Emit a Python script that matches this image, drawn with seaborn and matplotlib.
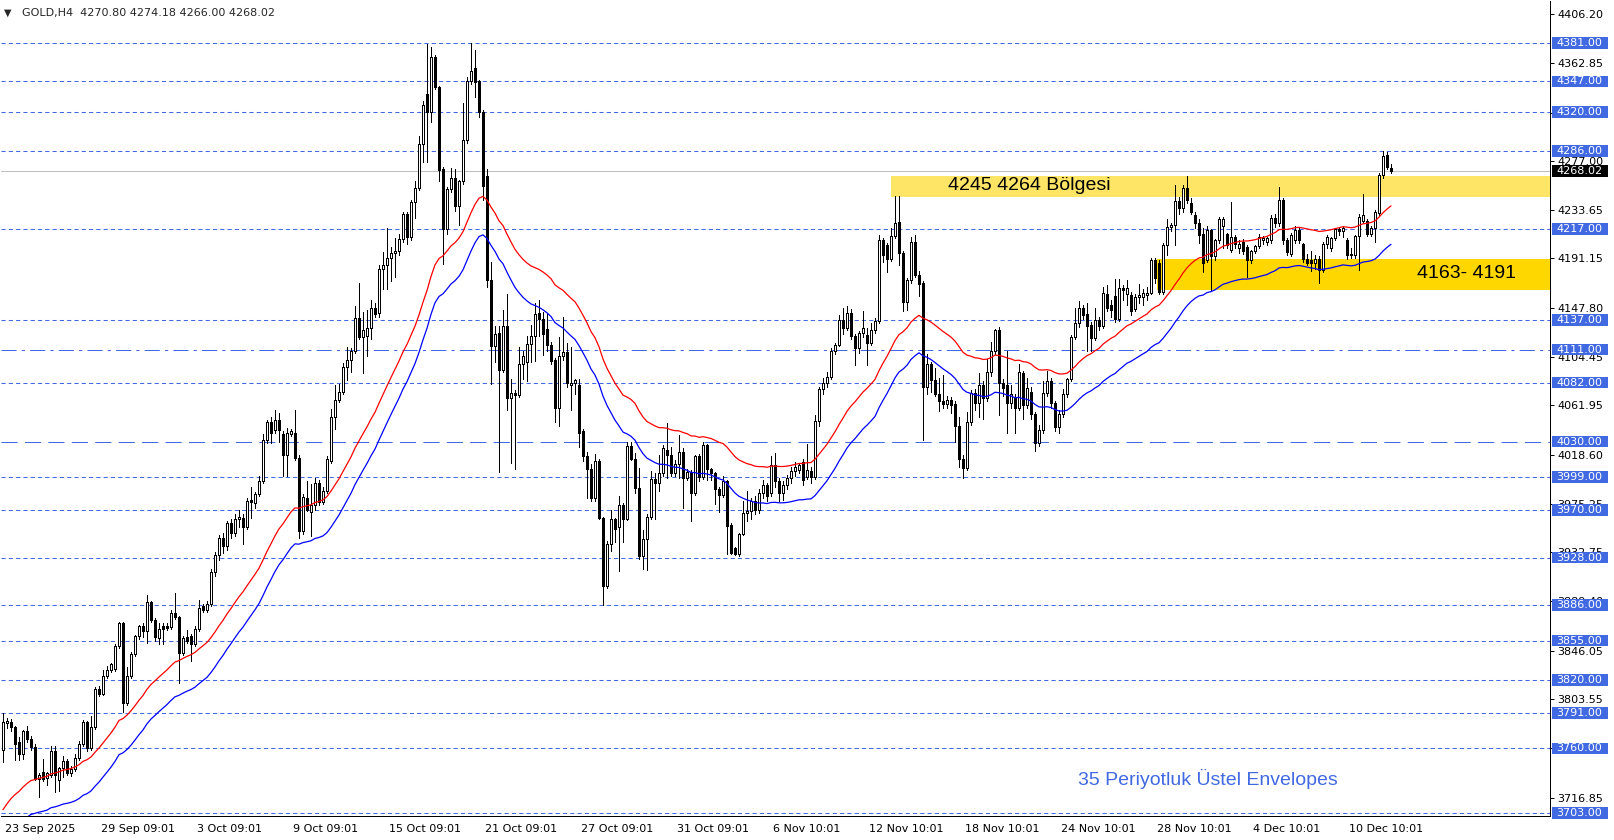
import numpy as np
import pandas as pd
import matplotlib
matplotlib.use("Agg")
import matplotlib.pyplot as plt
import matplotlib.transforms as mtransforms
from matplotlib.patches import Rectangle
import seaborn as sns

# GOLD H4 candles (open, high, low, close)
opens = [
    3759, 3782, 3783, 3779, 3766, 3755, 3775, 3768, 3761, 3733, 3739, 3734,
    3737, 3758, 3732, 3743, 3749, 3738, 3742, 3752, 3764, 3783, 3760, 3779,
    3812, 3808, 3824, 3829, 3830, 3850, 3870, 3800, 3824, 3843, 3859, 3868,
    3863, 3889, 3873, 3857, 3868, 3868, 3867, 3879, 3876, 3844, 3858, 3859,
    3852, 3865, 3885, 3882, 3887, 3915, 3930, 3945, 3938, 3958, 3950, 3962,
    3963, 3955, 3979, 3976, 3984, 3995, 4031, 4047, 4040, 4049, 4037, 4018,
    4037, 4038, 4016, 3951, 3980, 3968, 3974, 3994, 3977, 3987, 4013, 4052,
    4067, 4074, 4096, 4102, 4110, 4139, 4122, 4123, 4130, 4148, 4143, 4182,
    4185, 4192, 4196, 4198, 4208, 4230, 4210, 4241, 4253, 4292, 4336, 4320,
    4368, 4342, 4270, 4217, 4252, 4262, 4237, 4259, 4295, 4347, 4359, 4347,
    4320, 4264, 4172, 4114, 4126, 4093, 4132, 4068, 4073, 4071, 4098, 4100,
    4116, 4123, 4143, 4138, 4129, 4115, 4102, 4060, 4105, 4109, 4080, 4082,
    4080, 4039, 4017, 4006, 3980, 4013, 3963, 3903, 3940, 3962, 3955, 3974,
    3962, 4026, 4015, 3989, 3929, 3944, 3964, 3997, 3994, 4002, 4023, 4018,
    4002, 4010, 4021, 3998, 4003, 3985, 4017, 3999, 4027, 4006, 4002, 3988,
    3983, 3995, 3957, 3936, 3931, 3949, 3967, 3969, 3978, 3970, 3985, 3992,
    3985, 4009, 3995, 3985, 3992, 3998, 4004, 4005, 4012, 3999, 4004, 3999,
    4048, 4076, 4082, 4087, 4110, 4115, 4137, 4130, 4143, 4123, 4112, 4126,
    4124, 4117, 4128, 4136, 4207, 4203, 4191, 4211, 4223, 4196, 4153, 4172,
    4206, 4177, 4170, 4078, 4098, 4084, 4072, 4066, 4063, 4067, 4063, 4044,
    4015, 4007, 4047, 4073, 4064, 4080, 4068, 4091, 4110, 4128, 4082, 4080,
    4064, 4068, 4060, 4090, 4062, 4074, 4054, 4029, 4040, 4073, 4083, 4064,
    4043, 4054, 4072, 4085, 4122, 4134, 4148, 4142, 4133, 4121, 4137, 4132,
    4160, 4150, 4158, 4138, 4165, 4160, 4159, 4147, 4157, 4157, 4159, 4161,
    4190, 4187, 4162, 4203, 4219, 4221, 4242, 4236, 4253, 4240, 4229, 4222,
    4213, 4190, 4216, 4193, 4207, 4220, 4213, 4199, 4210, 4200, 4206, 4201,
    4190, 4198, 4202, 4207, 4206, 4207, 4227, 4222, 4243, 4207, 4195, 4207,
    4216, 4204, 4191, 4190, 4187, 4191, 4181, 4204, 4200, 4209, 4217, 4215,
    4207, 4195, 4194, 4211, 4224, 4224, 4213, 4218, 4231, 4265, 4282, 4270.80,
]
highs = [
    3791, 3787, 3786, 3780, 3770, 3776, 3780, 3771, 3764, 3738, 3751, 3739,
    3762, 3762, 3744, 3753, 3751, 3745, 3755, 3767, 3785, 3784, 3789, 3814,
    3815, 3829, 3833, 3835, 3852, 3871, 3871, 3832, 3845, 3860, 3869, 3870,
    3895, 3890, 3875, 3870, 3870, 3870, 3882, 3897, 3877, 3859, 3864, 3861,
    3868, 3891, 3887, 3890, 3918, 3933, 3948, 3950, 3960, 3962, 3966, 3970,
    3966, 3980, 3990, 3986, 4000, 4037, 4049, 4052, 4058, 4055, 4039, 4042,
    4041, 4058, 4018, 3984, 3995, 3993, 3998, 3996, 3990, 4017, 4059, 4080,
    4081, 4099, 4113, 4112, 4149, 4170, 4144, 4146, 4155, 4152, 4185, 4197,
    4218, 4201, 4209, 4213, 4232, 4232, 4243, 4259, 4299, 4330, 4380, 4377,
    4370, 4343, 4272, 4254, 4271, 4270, 4260, 4328, 4351, 4381, 4375, 4348,
    4322, 4270, 4188, 4132, 4132, 4146, 4160, 4085, 4075, 4113, 4110, 4123,
    4133, 4152, 4155, 4144, 4142, 4118, 4104, 4122, 4140, 4117, 4113, 4085,
    4085, 4041, 4021, 4010, 4019, 4015, 3964, 3943, 3970, 3963, 3982, 3976,
    4030, 4030, 4020, 4007, 3952, 3966, 4004, 4002, 4018, 4027, 4046, 4025,
    4014, 4036, 4024, 4006, 4005, 4018, 4019, 4030, 4028, 4007, 4003, 3990,
    4000, 3996, 3958, 3937, 3950, 3978, 3987, 3980, 3982, 3988, 3996, 3994,
    4017, 4020, 3998, 3995, 4001, 4008, 4012, 4011, 4015, 4028, 4008, 4053,
    4078, 4086, 4091, 4112, 4117, 4141, 4148, 4149, 4147, 4125, 4127, 4145,
    4130, 4134, 4139, 4212, 4209, 4205, 4218, 4246, 4246, 4198, 4174, 4210,
    4212, 4180, 4171, 4107, 4100, 4095, 4086, 4089, 4070, 4069, 4066, 4052,
    4018, 4056, 4075, 4076, 4090, 4083, 4103, 4118, 4129, 4131, 4085, 4110,
    4080, 4072, 4098, 4092, 4086, 4078, 4056, 4045, 4083, 4092, 4086, 4066,
    4058, 4076, 4086, 4124, 4148, 4154, 4150, 4152, 4135, 4148, 4140, 4166,
    4168, 4155, 4173, 4173, 4168, 4172, 4162, 4160, 4169, 4164, 4166, 4192,
    4192, 4190, 4205, 4226, 4222, 4256, 4245, 4256, 4264, 4244, 4232, 4226,
    4218, 4220, 4217, 4208, 4228, 4228, 4214, 4241, 4212, 4207, 4208, 4203,
    4199, 4203, 4213, 4211, 4210, 4229, 4230, 4254, 4244, 4209, 4214, 4220,
    4218, 4205, 4195, 4198, 4194, 4193, 4206, 4212, 4210, 4218, 4219, 4220,
    4209, 4200, 4212, 4230, 4248, 4226, 4220, 4234, 4266, 4286, 4285, 4274.18,
]
lows = [
    3748, 3778, 3775, 3750, 3750, 3751, 3766, 3759, 3732, 3717, 3731, 3728,
    3735, 3722, 3723, 3735, 3737, 3736, 3740, 3750, 3762, 3758, 3759, 3777,
    3806, 3807, 3822, 3827, 3828, 3848, 3792, 3798, 3822, 3841, 3856, 3858,
    3853, 3871, 3855, 3852, 3852, 3864, 3865, 3874, 3818, 3842, 3853, 3837,
    3850, 3863, 3880, 3880, 3885, 3912, 3926, 3932, 3935, 3945, 3947, 3955,
    3940, 3953, 3963, 3972, 3982, 3994, 4029, 4029, 4038, 4030, 4000, 4000,
    4035, 4014, 3945, 3949, 3969, 3947, 3970, 3974, 3975, 3985, 4011, 4041,
    4065, 4072, 4084, 4091, 4108, 4120, 4090, 4105, 4120, 4140, 4140, 4164,
    4164, 4171, 4175, 4194, 4206, 4204, 4207, 4227, 4251, 4276, 4276, 4311,
    4340, 4259, 4186, 4213, 4250, 4233, 4221, 4257, 4293, 4345, 4333, 4316,
    4243, 4166, 4081, 4100, 4003, 4091, 4058, 4011, 4006, 4069, 4085, 4083,
    4100, 4101, 4123, 4106, 4110, 4098, 4047, 4044, 4102, 4078, 4058, 4072,
    4025, 4013, 3980, 3978, 3978, 3962, 3886, 3901, 3934, 3942, 3916, 3942,
    3961, 4014, 3985, 3927, 3918, 3917, 3962, 3962, 3987, 4000, 3998, 4000,
    4000, 3998, 3972, 3996, 3960, 3983, 3995, 3997, 3996, 3996, 3975, 3968,
    3981, 3931, 3931, 3930, 3929, 3948, 3960, 3962, 3966, 3967, 3980, 3978,
    3982, 3990, 3978, 3979, 3988, 3994, 4000, 4002, 3992, 3997, 3994, 3997,
    4044, 4072, 4078, 4085, 4107, 4114, 4125, 4128, 4120, 4097, 4108, 4122,
    4097, 4115, 4126, 4134, 4188, 4179, 4189, 4209, 4185, 4145, 4146, 4170,
    4175, 4158, 4031, 4072, 4074, 4070, 4057, 4060, 4060, 4055, 4030, 4008,
    3998, 4005, 4045, 4058, 4052, 4050, 4066, 4088, 4107, 4053, 4070, 4038,
    4060, 4038, 4058, 4050, 4060, 4050, 4022, 4026, 4038, 4070, 4060, 4039,
    4038, 4052, 4069, 4083, 4120, 4131, 4138, 4110, 4110, 4119, 4128, 4130,
    4145, 4140, 4135, 4136, 4155, 4150, 4141, 4145, 4152, 4150, 4155, 4160,
    4170, 4160, 4160, 4194, 4215, 4203, 4230, 4232, 4240, 4230, 4218, 4205,
    4179, 4188, 4163, 4190, 4205, 4200, 4200, 4197, 4200, 4196, 4195, 4175,
    4187, 4196, 4200, 4204, 4203, 4205, 4219, 4220, 4204, 4194, 4193, 4205,
    4205, 4188, 4185, 4180, 4182, 4170, 4179, 4200, 4198, 4207, 4212, 4210,
    4191, 4192, 4192, 4181, 4222, 4211, 4211, 4206, 4229, 4262, 4270, 4266.00,
]
closes = [
    3783, 3784, 3779, 3764, 3755, 3775, 3768, 3761, 3733, 3737, 3733, 3738,
    3758, 3737, 3743, 3749, 3738, 3742, 3752, 3764, 3783, 3760, 3779, 3812,
    3808, 3824, 3829, 3834, 3850, 3870, 3800, 3824, 3843, 3859, 3868, 3863,
    3889, 3873, 3858, 3865, 3865, 3866, 3879, 3876, 3844, 3857, 3855, 3852,
    3865, 3884, 3882, 3887, 3915, 3930, 3945, 3938, 3958, 3950, 3962, 3964,
    3955, 3978, 3977, 3984, 3995, 4031, 4047, 4038, 4049, 4040, 4018, 4038,
    4039, 4016, 3951, 3981, 3970, 3974, 3994, 3977, 3987, 4015, 4052, 4067,
    4074, 4096, 4102, 4110, 4139, 4122, 4128, 4130, 4148, 4142, 4182, 4185,
    4192, 4196, 4198, 4208, 4230, 4210, 4241, 4253, 4292, 4326, 4320, 4368,
    4342, 4269, 4217, 4252, 4262, 4237, 4259, 4295, 4347, 4356, 4346, 4320,
    4255, 4172, 4114, 4125, 4093, 4132, 4068, 4073, 4071, 4098, 4105, 4116,
    4123, 4142, 4138, 4125, 4115, 4101, 4060, 4105, 4109, 4082, 4082, 4084,
    4038, 4017, 4006, 3980, 4013, 3963, 3903, 3940, 3962, 3953, 3974, 3962,
    4026, 4015, 3989, 3929, 3944, 3964, 3997, 3994, 4002, 4024, 4018, 4002,
    4010, 4021, 3998, 4003, 3985, 4017, 3999, 4027, 4006, 4002, 3988, 3983,
    3995, 3956, 3932, 3931, 3949, 3967, 3969, 3978, 3970, 3985, 3992, 3982,
    4009, 3995, 3985, 3992, 3998, 4004, 4008, 4009, 3996, 4005, 3999, 4048,
    4076, 4082, 4087, 4110, 4115, 4137, 4130, 4143, 4123, 4112, 4126, 4130,
    4117, 4128, 4136, 4207, 4194, 4191, 4211, 4222, 4196, 4153, 4172, 4206,
    4177, 4169, 4078, 4098, 4084, 4072, 4066, 4063, 4067, 4062, 4044, 4015,
    4007, 4047, 4073, 4064, 4080, 4068, 4091, 4110, 4128, 4082, 4077, 4064,
    4072, 4060, 4091, 4062, 4077, 4054, 4029, 4040, 4073, 4083, 4064, 4043,
    4054, 4072, 4085, 4122, 4134, 4148, 4141, 4132, 4121, 4137, 4132, 4161,
    4148, 4146, 4138, 4165, 4163, 4165, 4145, 4157, 4159, 4161, 4161, 4190,
    4174, 4162, 4203, 4219, 4221, 4242, 4236, 4253, 4243, 4232, 4222, 4212,
    4187, 4216, 4193, 4207, 4226, 4226, 4203, 4210, 4204, 4204, 4198, 4190,
    4198, 4202, 4210, 4209, 4209, 4227, 4222, 4243, 4207, 4197, 4212, 4216,
    4207, 4191, 4187, 4187, 4191, 4181, 4204, 4210, 4209, 4217, 4215, 4218,
    4194, 4194, 4211, 4228, 4229, 4213, 4218, 4232, 4265, 4281, 4272, 4268.02,
]

# EMA(35) value just before the first visible bar, envelope deviation
ema_seed = 3686
env_dev = 0.004

date_bars = [0, 24, 48, 72, 96, 120, 144, 168, 192, 216, 240, 264, 288, 312, 336]
date_labels = ["23 Sep 2025", "29 Sep 09:01", "3 Oct 09:01", "9 Oct 09:01",
               "15 Oct 09:01", "21 Oct 09:01", "27 Oct 09:01", "31 Oct 09:01",
               "6 Nov 10:01", "12 Nov 10:01", "18 Nov 10:01", "24 Nov 10:01",
               "28 Nov 10:01", "4 Dec 10:01", "10 Dec 10:01"]

price_ticks = [4406.20, 4362.85, 4319.50, 4277.00, 4233.65, 4191.15, 4147.80,
               4104.45, 4061.95, 4018.60, 3975.25, 3932.75, 3889.40, 3846.05,
               3803.55, 3760.20, 3716.85]

levels = [4381, 4347, 4320, 4286, 4217, 4137, 4111, 4082, 4030, 3999, 3970,
          3928, 3886, 3855, 3820, 3791, 3760, 3703]
level_kind = ["dot", "dot", "dot", "dot", "dot", "dot", "dashdot", "dot", "long",
              "dot", "dot", "dot", "dot", "dot", "dot", "dot", "dot", "dot"]

last_price = 4268.02
title_text = "GOLD,H4  4270.80 4274.18 4266.00 4268.02"

zone_hi = (4245, 4264)
zone_hi_start = 222
zone_hi_label = "4245 4264 Bölgesi"
zone_lo = (4163, 4191)
zone_lo_start = 288.5
zone_lo_label = "4163- 4191"
note_label = "35 Periyotluk Üstel Envelopes"

assert len(opens) == len(highs) == len(lows) == len(closes)

df = pd.DataFrame({"open": opens, "high": highs, "low": lows, "close": closes})
df["bar"] = np.arange(len(df))
df["high"] = df[["high", "open", "close"]].max(axis=1)
df["low"] = df[["low", "open", "close"]].min(axis=1)

ema = pd.concat([pd.Series([ema_seed]), df["close"]], ignore_index=True)
ema = ema.ewm(span=35, adjust=False).mean().iloc[1:].to_numpy()
df["upper"] = ema * (1 + env_dev)
df["lower"] = ema * (1 - env_dev)

sns.set_style("white")
plt.rcParams["font.family"] = ["DejaVu Sans"]

W, H = 1614, 840
fig = plt.figure(figsize=(W / 100, H / 100), dpi=100)
ax = fig.add_axes([1 / W, 24 / H, 1549 / W, 815 / H])
ax.set_xlim(-0.5, 386.75)
ax.set_ylim(3700.6, 4417.7)

PX = 0.72
LINE_BLUE = "#4169E1"

# zones
ax.add_patch(Rectangle((zone_hi_start, zone_hi[0]), 400 - zone_hi_start,
                       zone_hi[1] - zone_hi[0], facecolor="#FFE566",
                       edgecolor="none", zorder=0.5))
ax.add_patch(Rectangle((zone_lo_start, zone_lo[0]), 400 - zone_lo_start,
                       zone_lo[1] - zone_lo[0], facecolor="#FFD700",
                       edgecolor="none", zorder=0.5))

# horizontal levels
styles = {"dot": (0, (4, 3)), "dashdot": (0, (14.5, 5, 3, 5)), "long": (0, (15.5, 7))}
for lv, kind in zip(levels, level_kind):
    ax.axhline(lv, color=LINE_BLUE, lw=0.75, linestyle=styles[kind], zorder=1)
ax.axhline(last_price, color="#C0C0C0", lw=0.75, zorder=1)

# candles
ax.vlines(df["bar"], df["low"], df["high"], color="black", lw=PX,
          zorder=3, antialiased=False)
up = df[df["close"] >= df["open"]]
dn = df[df["close"] < df["open"]]
ax.bar(up["bar"], up["close"] - up["open"], bottom=up["open"], width=0.5,
       facecolor="white", edgecolor="black", linewidth=PX, zorder=4,
       antialiased=False)
ax.bar(dn["bar"], dn["open"] - dn["close"], bottom=dn["close"], width=0.5,
       facecolor="black", edgecolor="black", linewidth=PX, zorder=4,
       antialiased=False)

# envelopes
sns.lineplot(x=df["bar"], y=df["upper"], color="#FF0000", lw=0.9, ax=ax,
             estimator=None, legend=False, zorder=5)
sns.lineplot(x=df["bar"], y=df["lower"], color="#0000FF", lw=0.9, ax=ax,
             estimator=None, legend=False, zorder=5)

# texts
ax.text(236.25, 4255.5, zone_hi_label, fontsize=14, family="Liberation Sans",
        color="black", va="center", ha="left", zorder=6)
ax.text(353.5, 4177.5, zone_lo_label, fontsize=14, family="Liberation Sans",
        color="black", va="center", ha="left", zorder=6)
ax.text(268.75, 3733, note_label, fontsize=14, family="Liberation Sans",
        color=LINE_BLUE, va="center", ha="left", zorder=6)

fig.text(4 / W, 1 - 13 / H, "▼", fontsize=7, va="center", ha="left")
fig.text(22 / W, 1 - 13 / H, title_text, fontsize=8, va="center", ha="left")

# axes
for s in ["left", "top"]:
    ax.spines[s].set_visible(False)
for s in ["right", "bottom"]:
    ax.spines[s].set_color("black")
    ax.spines[s].set_linewidth(PX)

ax.yaxis.tick_right()
ax.set_yticks(price_ticks)
ax.set_yticklabels([f"{v:.2f}" for v in price_ticks])
ax.set_xticks(date_bars)
ax.set_xticklabels(date_labels)
ax.tick_params(axis="y", length=2.9, width=PX, pad=2.2, labelsize=8,
               colors="black", direction="out")
ax.tick_params(axis="x", length=2.9, width=PX, pad=3, labelsize=8,
               colors="black", direction="out")
offset = mtransforms.ScaledTranslation(2 / 100, 0, fig.dpi_scale_trans)
for lbl in ax.get_xticklabels():
    lbl.set_ha("left")
    lbl.set_transform(lbl.get_transform() + offset)
ax.set_xlabel("")
ax.set_ylabel("")

# price boxes on the right scale
blend = mtransforms.blended_transform_factory(ax.transAxes, ax.transData)
box_x = (1551.7 - 1) / 1549
box_w = 56.6 / 1549
box_h = 11.7 / 1.1366
txt_x = (1556.5 - 1) / 1549
for lv in levels:
    ax.add_patch(Rectangle((box_x, lv - box_h / 2), box_w, box_h, transform=blend,
                           facecolor=LINE_BLUE, edgecolor="none", clip_on=False,
                           zorder=7))
    ax.text(txt_x, lv, f"{lv:.2f}", transform=blend, color="white", fontsize=8,
            va="center", ha="left", clip_on=False, zorder=8)
ax.add_patch(Rectangle((box_x, last_price - box_h / 2), box_w, box_h,
                       transform=blend, facecolor="black", edgecolor="none",
                       clip_on=False, zorder=7))
ax.text(txt_x, last_price, f"{last_price:.2f}", transform=blend, color="white",
        fontsize=8, va="center", ha="left", clip_on=False, zorder=8)

fig.savefig("out.png", dpi=100)
